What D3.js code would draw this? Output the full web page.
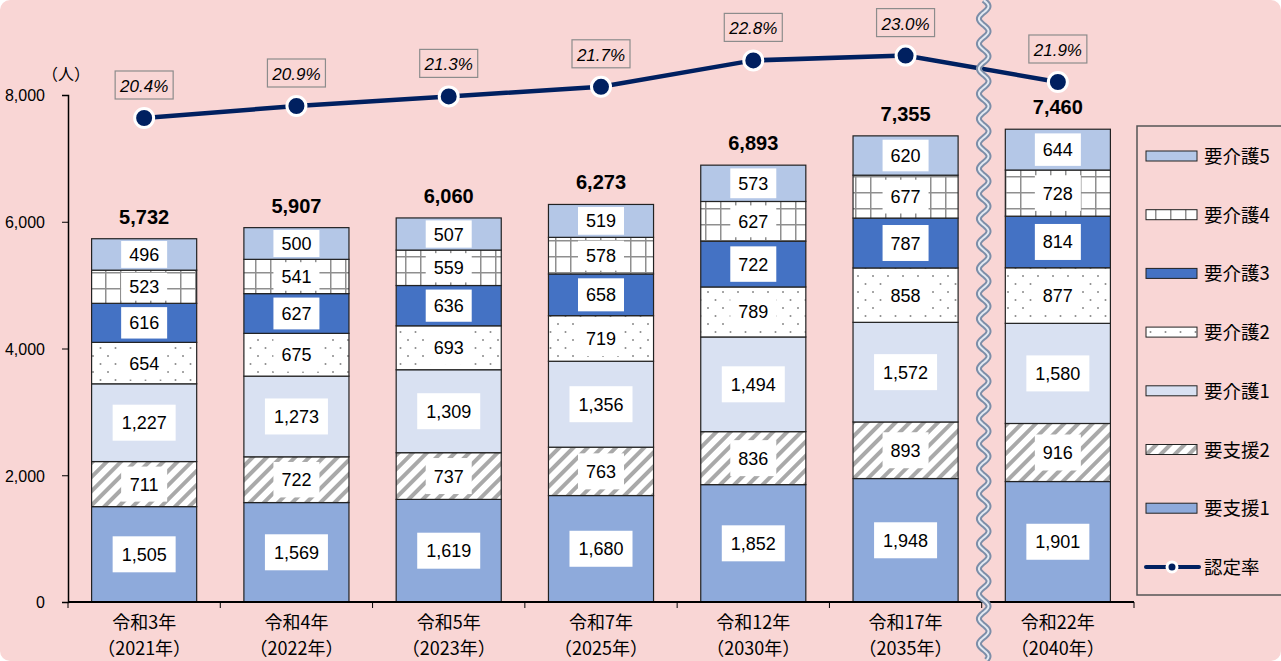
<!DOCTYPE html>
<html>
<head>
<meta charset="utf-8">
<script src="https://cdn.jsdelivr.net/npm/d3@7"></script>
<style>
  body { margin: 0; background: #fff; }
  svg { display: block; }
</style>
</head>
<body>
<svg id="canvas" width="1281" height="661"></svg>
<script>
let categories = ['令和3年', '令和4年', '令和5年', '令和7年', '令和12年', '令和17年', '令和22年']
let years = ['（2021年）', '（2022年）', '（2023年）', '（2025年）', '（2030年）', '（2035年）', '（2040年）']

let shien1 = [1505, 1569, 1619, 1680, 1852, 1948, 1901]
let shien2 = [711, 722, 737, 763, 836, 893, 916]
let kaigo1 = [1227, 1273, 1309, 1356, 1494, 1572, 1580]
let kaigo2 = [654, 675, 693, 719, 789, 858, 877]
let kaigo3 = [616, 627, 636, 658, 722, 787, 814]
let kaigo4 = [523, 541, 559, 578, 627, 677, 728]
let kaigo5 = [496, 500, 507, 519, 573, 620, 644]
let rates = [20.4, 20.9, 21.3, 21.7, 22.8, 23.0, 21.9]

let yTicks = [0, 2000, 4000, 6000, 8000]

let seriesNames = ['要支援1', '要支援2', '要介護1', '要介護2', '要介護3', '要介護4', '要介護5']
let seriesValues = [shien1, shien2, kaigo1, kaigo2, kaigo3, kaigo4, kaigo5]
let seriesFills = ['#8eaadb', 'url(#hatch)', '#d9e1f2', 'url(#dots)', '#4472c4', 'url(#grid)', '#b4c7e7']

let jp = '"Noto Sans CJK JP", sans-serif'
let num = '"Liberation Sans", Arial, sans-serif'
let fmt = d3.format(',')

let canvas = d3.select('#canvas')

// background
canvas.append('rect')
    .attr('x', 0).attr('y', 0).attr('width', 1281).attr('height', 661)
    .attr('rx', 10)
    .attr('fill', '#f9d6d5')

// patterns
let defs = canvas.append('defs')

let hatch = defs.append('pattern')
    .attr('id', 'hatch').attr('patternUnits', 'userSpaceOnUse')
    .attr('width', 10).attr('height', 10)
    .attr('patternTransform', 'rotate(45)')
hatch.append('rect').attr('width', 10).attr('height', 10).attr('fill', '#fff')
hatch.append('rect').attr('x', 0).attr('width', 4).attr('height', 10).attr('fill', '#a9a9a9')

let grid = defs.append('pattern')
    .attr('id', 'grid').attr('patternUnits', 'userSpaceOnUse')
    .attr('width', 15).attr('height', 16)
grid.append('rect').attr('width', 15).attr('height', 16).attr('fill', '#fff')
grid.append('path').attr('d', 'M0.5,0V16M0,0.5H15')
    .attr('stroke', '#8f8f8f').attr('stroke-width', 2).attr('fill', 'none')

let dots = defs.append('pattern')
    .attr('id', 'dots').attr('patternUnits', 'userSpaceOnUse')
    .attr('width', 15).attr('height', 16)
dots.append('rect').attr('width', 15).attr('height', 16).attr('fill', '#fff')
dots.append('circle').attr('cx', 3).attr('cy', 4).attr('r', 1).attr('fill', '#8a8a8a')
dots.append('circle').attr('cx', 10.5).attr('cy', 12).attr('r', 1).attr('fill', '#8a8a8a')

// scales
let xScale = d3.scaleBand()
    .domain(categories)
    .range([68, 1134])
    .paddingInner(0.31)
    .paddingOuter(0.155)

let yScale = d3.scaleLinear()
    .domain([0, 8000])
    .range([602, 95])

let rateScale = d3.scaleLinear()
    .domain([18, 24])
    .range([175.6, 31.6])

let cx = (c) => xScale(c) + xScale.bandwidth() / 2

// stacked data
let table = categories.map((c, i) => {
    let row = { category: c }
    seriesNames.forEach((s, j) => { row[s] = seriesValues[j][i] })
    return row
})
let stacked = d3.stack().keys(seriesNames)(table)
let totals = categories.map((c, i) => d3.sum(seriesValues, (s) => s[i]))

// axes
let yAxis = d3.axisLeft(yScale)
    .tickValues(yTicks)
    .tickSize(6)
    .tickFormat(fmt)
let yG = canvas.append('g').attr('transform', 'translate(68,0)').call(yAxis)
yG.select('.domain').attr('stroke', '#000').attr('stroke-width', 1.5)
yG.selectAll('.tick line').attr('stroke', '#000')
yG.selectAll('.tick text')
    .attr('x', -23).attr('dy', '0.36em')
    .attr('font-family', num).attr('font-size', 16).attr('fill', '#000')

canvas.append('text')
    .attr('x', 66).attr('y', 80)
    .attr('text-anchor', 'middle')
    .attr('font-family', jp).attr('font-size', 16)
    .text('（人）')

// bars
let layers = canvas.selectAll('g.layer')
    .data(stacked)
    .enter()
    .append('g')
    .attr('class', 'layer')
    .attr('fill', (d, i) => seriesFills[i])

layers.selectAll('rect')
    .data((d) => d)
    .enter()
    .append('rect')
    .attr('x', (d) => xScale(d.data.category))
    .attr('y', (d) => yScale(d[1]))
    .attr('width', xScale.bandwidth())
    .attr('height', (d) => yScale(d[0]) - yScale(d[1]))
    .attr('stroke', '#222')
    .attr('stroke-width', 1.2)

// x axis line with boundary ticks
let xAxisG = canvas.append('g')
xAxisG.append('line')
    .attr('x1', 68).attr('x2', 1134).attr('y1', 602).attr('y2', 602)
    .attr('stroke', '#000').attr('stroke-width', 2)
xAxisG.selectAll('line.tick')
    .data(d3.range(categories.length + 1))
    .enter()
    .append('line')
    .attr('class', 'tick')
    .attr('x1', (i) => 68 + i * xScale.step())
    .attr('x2', (i) => 68 + i * xScale.step())
    .attr('y1', 602).attr('y2', 608)
    .attr('stroke', '#000')

let xLabels = canvas.selectAll('g.xlab')
    .data(categories)
    .enter()
    .append('g')
    .attr('class', 'xlab')
    .attr('transform', (c) => 'translate(' + cx(c) + ',0)')
xLabels.append('text')
    .attr('y', 629).attr('text-anchor', 'middle')
    .attr('font-family', jp).attr('font-size', 18)
    .text((c) => c)
xLabels.append('text')
    .attr('y', 655).attr('text-anchor', 'middle')
    .attr('font-family', jp).attr('font-size', 18)
    .text((c, i) => years[i])

// segment value labels
let segLabels = []
stacked.forEach((layer) => {
    layer.forEach((d) => {
        segLabels.push({
            x: cx(d.data.category),
            y: (yScale(d[0]) + yScale(d[1])) / 2,
            h: yScale(d[0]) - yScale(d[1]),
            value: d[1] - d[0]
        })
    })
})
let boxW = (d) => fmt(d.value).length > 3 ? 63 : 46
let boxH = (d) => Math.min(36, 0.6 * d.h + 8)
let segG = canvas.selectAll('g.seg')
    .data(segLabels)
    .enter()
    .append('g')
    .attr('class', 'seg')
    .attr('transform', (d) => 'translate(' + d.x + ',' + d.y + ')')
segG.append('rect')
    .attr('x', (d) => -boxW(d) / 2)
    .attr('width', boxW)
    .attr('y', (d) => -boxH(d) / 2)
    .attr('height', boxH)
    .attr('fill', '#fff')
segG.append('text')
    .attr('y', 6.5).attr('text-anchor', 'middle')
    .attr('font-family', num).attr('font-size', 18)
    .text((d) => fmt(d.value))

// totals
canvas.selectAll('text.total')
    .data(categories)
    .enter()
    .append('text')
    .attr('class', 'total')
    .attr('x', cx)
    .attr('y', (c, i) => yScale(totals[i]) - 15)
    .attr('text-anchor', 'middle')
    .attr('font-family', num).attr('font-size', 20).attr('font-weight', 'bold')
    .text((c, i) => fmt(totals[i]))

// rate line
let line = d3.line()
    .x((d, i) => cx(categories[i]))
    .y((d) => rateScale(d))
canvas.append('path')
    .datum(rates)
    .attr('d', line)
    .attr('fill', 'none')
    .attr('stroke', '#002060')
    .attr('stroke-width', 4.5)

canvas.selectAll('circle.pt')
    .data(rates)
    .enter()
    .append('circle')
    .attr('class', 'pt')
    .attr('cx', (d, i) => cx(categories[i]))
    .attr('cy', (d) => rateScale(d))
    .attr('r', 9.5)
    .attr('fill', '#002060')
    .attr('stroke', '#fff')
    .attr('stroke-width', 3)

let rateLab = canvas.selectAll('g.rlab')
    .data(rates)
    .enter()
    .append('g')
    .attr('class', 'rlab')
    .attr('transform', (d, i) => 'translate(' + cx(categories[i]) + ',' + (rateScale(d) - 33) + ')')
rateLab.append('rect')
    .attr('x', -29).attr('y', -14).attr('width', 58).attr('height', 28)
    .attr('fill', 'none').attr('stroke', '#8c8c8c').attr('stroke-width', 1.2)
rateLab.append('text')
    .attr('y', 7).attr('text-anchor', 'middle')
    .attr('font-family', num).attr('font-size', 17).attr('font-style', 'italic')
    .text((d) => d.toFixed(1) + '%')

// wavy break between 令和17年 and 令和22年
let breakX = 68 + 6 * xScale.step() + 2
let wavePts = d3.range(0, 662, 2).map((y) => [breakX + 5 * Math.sin(y / 25 * 2 * Math.PI), y])
let wave = d3.line().curve(d3.curveBasis)
canvas.append('path').attr('d', wave(wavePts))
    .attr('fill', 'none').attr('stroke', '#7d8ea8').attr('stroke-width', 6)
canvas.append('path').attr('d', wave(wavePts))
    .attr('fill', 'none').attr('stroke', '#e3e9f2').attr('stroke-width', 2)

// legend
let legendG = canvas.append('g')
legendG.append('rect')
    .attr('x', 1137).attr('y', 126).attr('width', 160).attr('height', 469)
    .attr('fill', 'none').attr('stroke', '#555').attr('stroke-width', 1.5)

let legendItems = seriesNames.map((s, i) => ({ name: s, fill: seriesFills[i] })).reverse()
legendItems.forEach((item, i) => {
    let y = 156 + i * 58.7
    legendG.append('rect')
        .attr('x', 1146).attr('y', y - 5).attr('width', 51).attr('height', 10)
        .attr('fill', item.fill).attr('stroke', '#222').attr('stroke-width', 1)
    legendG.append('text')
        .attr('x', 1204).attr('y', y + 7)
        .attr('font-family', jp).attr('font-size', 18.5)
        .text(item.name)
})
let rateY = 156 + 7 * 58.7
legendG.append('line')
    .attr('x1', 1146).attr('x2', 1199).attr('y1', rateY).attr('y2', rateY)
    .attr('stroke', '#002060').attr('stroke-width', 4).attr('stroke-linecap', 'round')
legendG.append('circle')
    .attr('cx', 1172).attr('cy', rateY).attr('r', 5)
    .attr('fill', '#002060').attr('stroke', '#fff').attr('stroke-width', 3)
legendG.append('text')
    .attr('x', 1204).attr('y', rateY + 7)
    .attr('font-family', jp).attr('font-size', 18.5)
    .text('認定率')
</script>
</body>
</html>
